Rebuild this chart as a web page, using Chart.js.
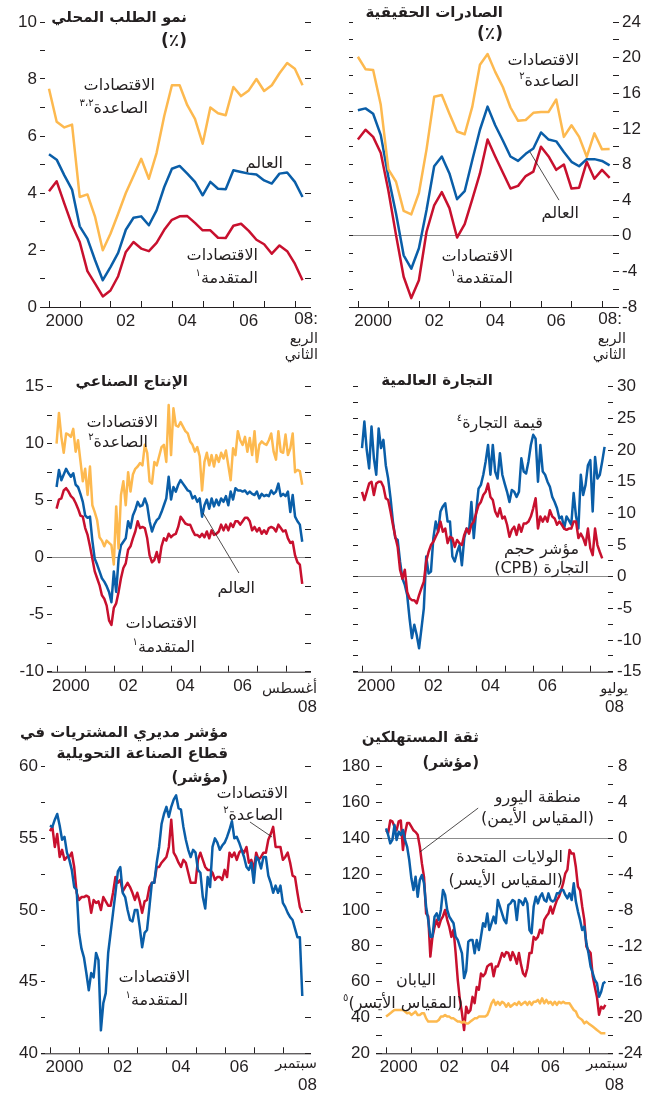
<!DOCTYPE html>
<html lang="ar">
<head>
<meta charset="utf-8">
<script src="https://cdn.jsdelivr.net/npm/chart.js@4.4.0/dist/chart.umd.min.js"></script>
<style>
  body { margin: 0; background: #fff; }
  #page { position: relative; width: 652px; height: 1097px; overflow: hidden; background: #fff; }
  canvas { position: absolute; }
  .t {
    position: absolute; white-space: nowrap; direction: rtl;
    font-family: "DejaVu Sans", sans-serif; font-size: 16px; line-height: 1;
    color: #231f20; transform: translate(-100%, -50%);
  }
  .h { font-weight: bold; font-size: 15px; }
  .p { font-weight: bold; font-size: 17px; }
  .n { font-family: "Liberation Sans", sans-serif; font-size: 17px; direction: ltr; }
  .s { font-size: 14.5px; }
  sup { font-size: 10px; vertical-align: 7px; line-height: 0; }
</style>
</head>
<body>
<div id="page">
  <canvas id="c1" width="326" height="335" style="left:0;top:0"></canvas>
  <canvas id="c2" width="326" height="335" style="left:326px;top:0"></canvas>
  <canvas id="c3" width="326" height="335" style="left:0;top:365px"></canvas>
  <canvas id="c4" width="326" height="335" style="left:326px;top:365px"></canvas>
  <canvas id="c5" width="326" height="365" style="left:0;top:720px"></canvas>
  <canvas id="c6" width="326" height="365" style="left:326px;top:720px"></canvas>

  <!-- domestic demand -->
  <div class="t h" style="left:187px;top:17px">نمو الطلب المحلي</div>
  <div class="t p" style="left:187px;top:40px">(٪)</div>
  <div class="t" style="left:155px;top:85px">الاقتصادات</div>
  <div class="t" style="left:148px;top:108px">الصاعدة<sup>٣،٢</sup></div>
  <div class="t" style="left:283px;top:163px">العالم</div>
  <div class="t" style="left:258px;top:255px">الاقتصادات</div>
  <div class="t" style="left:258px;top:278px">المتقدمة<sup>١</sup></div>
  <div class="t n" style="left:318px;top:318px">08:</div>
  <div class="t s" style="left:318px;top:338px">الربع</div>
  <div class="t s" style="left:318px;top:354px">الثاني</div>

  <!-- real exports -->
  <div class="t h" style="left:503px;top:12px">الصادرات الحقيقية</div>
  <div class="t p" style="left:503px;top:33px">(٪)</div>
  <div class="t" style="left:579px;top:60px">الاقتصادات</div>
  <div class="t" style="left:579px;top:81px">الصاعدة<sup>٢</sup></div>
  <div class="t" style="left:579px;top:213px">العالم</div>
  <div class="t" style="left:513px;top:256px">الاقتصادات</div>
  <div class="t" style="left:513px;top:278px">المتقدمة<sup>١</sup></div>
  <div class="t n" style="left:622px;top:318px">08:</div>
  <div class="t s" style="left:626px;top:338px">الربع</div>
  <div class="t s" style="left:626px;top:354px">الثاني</div>

  <!-- industrial production -->
  <div class="t h" style="left:188px;top:381px">الإنتاج الصناعي</div>
  <div class="t" style="left:158px;top:422px">الاقتصادات</div>
  <div class="t" style="left:148px;top:442px">الصاعدة<sup>٢</sup></div>
  <div class="t" style="left:255px;top:588px">العالم</div>
  <div class="t" style="left:197px;top:623px">الاقتصادات</div>
  <div class="t" style="left:195px;top:647px">المتقدمة<sup>١</sup></div>
  <div class="t s" style="left:317px;top:688px">أغسطس</div>
  <div class="t n" style="left:317px;top:706px">08</div>

  <!-- world trade -->
  <div class="t h" style="left:493px;top:380px">التجارة العالمية</div>
  <div class="t" style="left:543px;top:423px">قيمة التجارة<sup>٤</sup></div>
  <div class="t" style="left:579px;top:549px">مؤشر حجم</div>
  <div class="t" style="left:589px;top:568px">التجارة (CPB)</div>
  <div class="t s" style="left:628px;top:688px">يوليو</div>
  <div class="t n" style="left:624px;top:706px">08</div>

  <!-- PMI -->
  <div class="t h" style="left:228px;top:732px">مؤشر مديري المشتريات في</div>
  <div class="t h" style="left:228px;top:753px">قطاع الصناعة التحويلية</div>
  <div class="t h" style="left:228px;top:777px">(مؤشر)</div>
  <div class="t" style="left:288px;top:793px">الاقتصادات</div>
  <div class="t" style="left:283px;top:815px">الصاعدة<sup>٢</sup></div>
  <div class="t" style="left:190px;top:977px">الاقتصادات</div>
  <div class="t" style="left:188px;top:1000px">المتقدمة<sup>١</sup></div>
  <div class="t s" style="left:317px;top:1063px">سبتمبر</div>
  <div class="t n" style="left:317px;top:1084px">08</div>

  <!-- consumer confidence -->
  <div class="t h" style="left:479px;top:737px">ثقة المستهلكين</div>
  <div class="t h" style="left:479px;top:762px">(مؤشر)</div>
  <div class="t" style="left:581px;top:797px">منطقة اليورو</div>
  <div class="t" style="left:594px;top:818px">(المقياس الأيمن)</div>
  <div class="t" style="left:563px;top:857px">الولايات المتحدة</div>
  <div class="t" style="left:563px;top:880px">(المقياس الأيسر)</div>
  <div class="t" style="left:436px;top:980px">اليابان</div>
  <div class="t" style="left:463px;top:1003px">(المقياس الأيسر)<sup>٥</sup></div>
  <div class="t s" style="left:628px;top:1063px">سبتمبر</div>
  <div class="t n" style="left:624px;top:1084px">08</div>
</div>

<script>
// ---- data ----
const startYear = 2000;
const yearLabels = ["2000", "02", "04", "06"];

// domestic demand growth, quarterly 2000Q1-2008Q2 (%)
const demandEmerging = [7.66, 6.5, 6.3, 6.4, 3.86, 3.95, 3.16, 1.99, 2.57, 3.27, 4.0, 4.6, 5.2, 4.5, 5.4, 6.7, 7.78, 7.78, 7.08, 6.6, 5.73, 7.0, 6.8, 6.73, 7.72, 7.4, 7.6, 8.0, 7.58, 7.78, 8.2, 8.56, 8.36, 7.78];
const demandWorld = [5.36, 5.17, 4.62, 4.12, 2.83, 2.4, 1.64, 0.94, 1.4, 1.9, 2.71, 3.13, 3.18, 2.87, 3.39, 4.21, 4.85, 4.95, 4.68, 4.39, 3.92, 4.39, 4.15, 4.13, 4.8, 4.74, 4.68, 4.65, 4.44, 4.33, 4.68, 4.72, 4.39, 3.86];
const demandAdvanced = [4.06, 4.41, 3.63, 2.87, 2.28, 1.26, 0.82, 0.37, 0.58, 1.08, 1.93, 2.28, 2.05, 1.96, 2.25, 2.71, 3.06, 3.18, 3.19, 2.95, 2.69, 2.69, 2.43, 2.42, 2.85, 2.92, 2.67, 2.36, 2.2, 1.87, 2.16, 1.96, 1.52, 0.94];
const demandTicks = [0, 2, 4, 6, 8, 10];

// real exports, quarterly 2000Q1-2008Q2 (%)
const exportsEmerging = [20.1, 18.7, 18.6, 14.7, 7.45, 6.06, 2.8, 2.4, 4.8, 9.7, 15.6, 15.8, 13.7, 11.7, 11.4, 14.5, 19.2, 20.4, 18.4, 16.7, 14.4, 12.9, 13.0, 13.8, 13.9, 13.9, 15.3, 11.1, 12.4, 11.1, 8.87, 11.5, 9.7, 9.73];
const exportsWorld = [14.1, 14.3, 13.7, 11.3, 6.6, 2.5, -2.2, -3.7, -1.4, 2.9, 7.8, 8.9, 7.0, 4.1, 5.0, 8.5, 11.9, 14.5, 12.4, 10.7, 8.9, 8.4, 9.2, 9.8, 11.6, 10.8, 10.6, 9.4, 8.3, 7.8, 8.6, 8.6, 8.4, 7.9];
const exportsAdvanced = [10.8, 11.9, 11.1, 9.3, 5.05, 0.07, -4.6, -7.0, -5.0, 0.45, 3.4, 4.9, 3.1, -0.2, 1.3, 4.1, 7.0, 10.8, 8.9, 7.1, 5.3, 5.6, 6.7, 7.2, 10.0, 8.9, 7.4, 8.0, 5.3, 5.4, 8.3, 6.4, 7.4, 6.5];
const exportsTicks = [-8, -4, 0, 4, 8, 12, 16, 20, 24];

// industrial production, monthly Jan 2000-Aug 2008 (%)
const ipEmerging = [10.0, 12.7, 10.6, 9.2, 10.9, 10.8, 10.6, 11.3, 9.3, 10.3, 8.5, 6.7, 7.8, 5.5, 8.0, 4.6, 4.0, 3.3, 1.8, 1.5, 1.0, 1.5, 1.3, 1.1, -0.6, 4.5, 0.8, 5.5, 6.7, 4.6, 7.5, 5.8, 7.3, 7.8, 8.0, 8.3, 8.1, 9.9, 9.2, 6.7, 6.5, 8.4, 8.1, 8.9, 9.7, 9.9, 8.4, 13.4, 9.0, 13.1, 11.6, 11.5, 11.9, 11.5, 11.1, 10.9, 10.2, 9.9, 9.3, 9.7, 8.9, 5.9, 8.4, 9.2, 8.1, 9.0, 8.0, 9.0, 8.4, 9.2, 8.7, 9.4, 8.1, 6.8, 9.6, 9.0, 11.1, 10.3, 9.9, 10.6, 9.3, 10.5, 9.0, 11.1, 8.4, 9.9, 10.2, 10.0, 9.9, 10.3, 10.9, 9.3, 8.6, 11.1, 9.3, 9.2, 10.8, 9.0, 9.6, 10.9, 7.5, 7.7, 7.6, 6.4];
const ipWorld = [6.2, 7.7, 6.8, 7.3, 7.8, 7.4, 7.1, 7.4, 6.4, 6.2, 5.6, 4.9, 3.7, 3.5, 3.6, 1.5, -0.1, -0.6, -1.2, -1.8, -2.1, -2.5, -3.0, -3.9, -1.2, -3.0, -0.1, 1.1, 1.4, 1.7, 3.2, 2.6, 3.7, 4.2, 4.9, 4.5, 4.6, 5.2, 4.6, 3.2, 2.3, 2.9, 3.3, 3.5, 4.0, 4.6, 5.2, 7.1, 5.1, 6.2, 5.8, 6.4, 6.8, 6.5, 6.2, 5.9, 5.8, 5.2, 5.4, 4.9, 5.2, 3.6, 4.6, 5.1, 4.3, 5.2, 4.5, 5.1, 4.6, 5.2, 4.9, 5.4, 4.6, 5.8, 5.1, 6.1, 5.9, 5.9, 5.8, 5.9, 5.6, 5.8, 5.6, 5.5, 5.8, 5.2, 5.6, 5.4, 5.5, 5.4, 5.9, 5.6, 5.8, 6.5, 5.4, 5.6, 5.4, 5.8, 4.0, 5.5, 3.6, 3.2, 2.9, 1.4];
const ipAdvanced = [4.3, 5.1, 5.2, 5.9, 6.1, 5.8, 5.4, 5.2, 4.8, 4.3, 3.7, 3.6, 2.6, 2.0, 1.0, -0.1, -1.2, -1.8, -2.4, -3.3, -3.6, -4.2, -5.5, -5.9, -4.4, -4.0, -3.0, -1.8, -0.9, -0.5, 0.7, 1.0, 1.7, 2.3, 3.2, 2.6, 2.7, 2.6, 1.7, 0.2, -0.4, -0.2, 0.5, -0.4, 1.0, 1.7, 1.5, 2.1, 1.8, 2.0, 2.1, 2.7, 3.6, 3.3, 3.0, 2.9, 2.9, 2.4, 2.0, 2.0, 1.8, 2.1, 1.8, 2.3, 1.7, 2.4, 2.0, 2.1, 2.3, 2.9, 2.4, 2.9, 2.4, 3.0, 2.7, 3.2, 3.2, 2.9, 3.2, 3.5, 3.5, 3.2, 2.4, 2.7, 2.3, 2.6, 2.1, 2.4, 2.1, 2.6, 2.7, 2.6, 2.3, 2.9, 2.6, 2.3, 2.4, 1.7, 1.3, 1.4, 0.2, -0.4, -0.6, -2.3];
const ipTicks = [-10, -5, 0, 5, 10, 15];

// world trade, monthly from Jan 2000 (%)
const tradeValue = [20.3, 24.5, 20.0, 17.1, 23.7, 18.7, 16.1, 23.4, 20.3, 21.6, 17.6, 15.5, 12.4, 8.7, 6.1, 5.8, 2.4, -0.3, -1.3, -2.9, -6.6, -9.7, -7.6, -9.2, -11.3, -8.2, -5.0, 3.2, 0.5, 0.8, 6.1, 8.7, 7.1, 10.3, 11.1, 11.6, 8.7, 8.7, 3.2, 2.4, 3.9, 5.0, 1.8, 6.1, 7.6, 7.1, 11.8, 6.1, 10.3, 13.9, 14.5, 16.1, 18.2, 20.8, 16.1, 20.8, 16.6, 15.5, 19.5, 16.1, 14.7, 13.4, 11.8, 13.7, 13.4, 12.6, 13.4, 18.7, 16.6, 16.3, 18.2, 20.8, 22.4, 21.8, 15.0, 20.8, 16.6, 16.1, 15.0, 14.2, 12.6, 11.8, 10.8, 9.2, 9.5, 7.6, 9.5, 8.9, 8.2, 13.2, 9.5, 7.6, 16.1, 12.9, 14.5, 17.6, 18.4, 10.3, 18.9, 15.5, 16.1, 18.2, 20.5];
const tradeVolume = [13.4, 12.1, 13.4, 14.7, 15.0, 12.9, 14.7, 15.0, 15.0, 14.2, 12.4, 12.1, 10.3, 8.2, 6.3, 4.7, 1.1, -0.3, 1.1, -2.4, -3.4, -3.7, -3.7, -4.2, -2.9, -1.8, -0.8, 2.4, 3.9, 5.0, 5.5, 6.3, 7.1, 8.7, 7.1, 7.6, 5.3, 6.3, 6.1, 4.7, 5.8, 5.3, 5.0, 6.6, 7.6, 6.8, 8.2, 8.7, 10.0, 11.3, 11.8, 12.9, 13.4, 14.7, 12.6, 12.1, 10.3, 9.5, 10.8, 9.2, 9.5, 8.2, 6.3, 7.4, 7.9, 6.6, 8.2, 7.1, 8.4, 8.4, 8.7, 9.5, 10.8, 12.4, 7.6, 9.5, 8.7, 9.5, 8.7, 10.5, 9.5, 9.2, 8.2, 8.7, 8.2, 7.6, 7.4, 7.6, 7.6, 8.7, 8.7, 6.1, 6.8, 6.1, 5.0, 7.6, 4.5, 3.4, 7.6, 5.0, 3.9, 2.9];
const tradeTicks = [-15, -10, -5, 0, 5, 10, 15, 20, 25, 30];

// manufacturing PMI, monthly Jan 2000-Sep 2008 (index)
const pmiAdvanced = [55.9, 55.8, 56.3, 56.7, 55.9, 54.9, 55.1, 54.0, 53.5, 52.8, 51.6, 51.4, 48.4, 47.3, 46.7, 45.6, 44.4, 45.6, 45.3, 47.0, 46.5, 41.6, 43.5, 44.2, 47.0, 48.4, 49.8, 51.2, 52.7, 53.0, 51.2, 50.9, 50.0, 49.3, 49.2, 50.0, 50.0, 48.8, 47.4, 48.4, 48.6, 50.2, 51.9, 51.9, 53.3, 54.4, 56.0, 56.7, 57.2, 56.5, 57.2, 57.7, 58.0, 57.1, 57.0, 55.8, 54.9, 54.2, 53.7, 54.2, 54.0, 52.8, 52.6, 50.9, 50.1, 52.3, 51.6, 54.4, 55.0, 54.7, 54.2, 54.5, 54.7, 55.1, 55.6, 56.2, 55.0, 55.1, 54.7, 54.2, 53.7, 53.0, 52.8, 53.3, 51.9, 53.7, 53.5, 52.9, 53.7, 53.7, 52.4, 51.9, 51.2, 51.7, 51.2, 51.7, 50.5, 50.2, 49.8, 49.5, 49.3, 48.7, 48.1, 48.1, 44.0];
const pmiEmerging = [55.5, 55.8, 54.4, 55.3, 53.7, 54.2, 53.5, 53.7, 53.7, 54.0, 53.0, 51.2, 50.7, 50.9, 50.9, 51.0, 50.9, 49.8, 50.7, 50.5, 50.6, 50.0, 50.9, 50.6, 50.3, 50.3, 51.2, 52.3, 51.9, 52.1, 51.3, 51.6, 51.9, 51.6, 51.2, 50.7, 51.2, 50.6, 49.8, 50.6, 50.7, 51.6, 51.9, 51.9, 53.0, 53.0, 53.3, 53.5, 53.7, 54.4, 56.3, 54.0, 53.7, 53.3, 53.0, 53.5, 53.3, 52.6, 51.9, 51.9, 51.9, 53.5, 54.0, 53.5, 53.0, 52.8, 52.8, 52.6, 52.1, 52.3, 52.3, 52.1, 52.8, 52.3, 54.0, 53.7, 54.0, 53.5, 54.0, 54.2, 54.0, 54.4, 53.3, 53.5, 52.8, 54.0, 53.5, 53.7, 54.0, 54.0, 54.9, 55.3, 55.8, 54.4, 54.4, 54.4, 53.5, 53.7, 54.0, 53.3, 52.4, 52.3, 51.2, 50.2, 49.8];
const pmiTicks = [40, 45, 50, 55, 60];

// consumer confidence, monthly Jan 2000-Sep 2008
const confUS = [145.6, 141.9, 137.2, 139.1, 147.4, 139.1, 143.7, 141.9, 144.7, 139.1, 135.3, 127.9, 117.7, 111.2, 118.6, 107.4, 116.7, 119.5, 114.9, 101.9, 94.4, 85.1, 85.1, 96.3, 98.1, 94.4, 100.0, 111.2, 108.4, 100.0, 96.3, 94.4, 92.6, 85.1, 83.3, 79.5, 75.8, 62.0, 66.0, 82.3, 83.3, 83.3, 75.8, 83.3, 77.7, 85.1, 92.6, 90.7, 98.1, 88.8, 92.6, 96.3, 92.6, 105.6, 101.9, 98.1, 94.4, 92.6, 102.8, 103.7, 105.6, 104.7, 94.4, 105.6, 104.7, 102.8, 106.5, 103.7, 88.8, 87.0, 101.9, 107.4, 103.7, 107.4, 109.3, 105.6, 104.7, 109.3, 105.6, 104.7, 105.6, 109.3, 109.3, 111.2, 111.2, 108.4, 106.5, 109.3, 105.6, 114.9, 104.7, 99.1, 94.4, 88.8, 90.7, 81.4, 75.8, 68.4, 64.7, 60.9, 59.1, 51.6, 54.4, 59.1, 60.0];
const confJapan = [40.5, 41.4, 42.3, 43.3, 44.2, 44.2, 44.2, 44.2, 44.2, 43.3, 42.3, 42.7, 41.4, 42.3, 43.3, 41.4, 41.4, 42.3, 42.3, 39.5, 37.7, 37.7, 37.7, 37.7, 37.7, 38.6, 40.5, 40.5, 41.4, 40.5, 40.5, 39.5, 39.5, 38.6, 37.7, 37.7, 37.1, 37.7, 36.7, 36.7, 37.7, 38.6, 39.5, 39.5, 40.5, 40.5, 40.5, 40.5, 41.4, 44.2, 47.9, 49.8, 47.0, 48.8, 47.0, 48.8, 47.9, 46.0, 47.9, 46.0, 47.0, 47.9, 47.0, 48.8, 47.0, 47.9, 48.8, 47.0, 48.8, 47.0, 48.8, 48.8, 49.8, 47.9, 50.7, 47.9, 49.8, 47.9, 48.8, 47.0, 48.8, 47.0, 48.8, 47.9, 48.8, 47.9, 47.9, 47.9, 46.0, 44.2, 43.3, 40.5, 39.5, 38.6, 36.7, 37.7, 36.7, 35.8, 34.9, 34.0, 33.0, 32.1, 31.2, 31.2, 31.2];
const confEuro = [0.9, 0.6, 2.0, 1.9, 1.3, 0.9, 1.9, 2.0, -1.3, 0.6, 1.7, 1.7, 1.3, 0.9, 0.7, 0.4, -0.9, -2.8, -4.3, -8.4, -8.7, -13.2, -11.0, -9.9, -9.1, -9.9, -9.1, -8.7, -8.0, -9.1, -9.9, -11.0, -10.2, -12.8, -15.8, -18.0, -19.5, -21.4, -18.8, -19.5, -19.2, -17.7, -18.4, -16.6, -16.9, -15.1, -15.4, -15.1, -14.3, -14.1, -14.0, -15.4, -14.3, -14.3, -13.6, -12.8, -13.2, -12.7, -12.8, -13.6, -12.7, -13.2, -14.0, -12.8, -14.1, -15.1, -15.4, -14.5, -12.8, -12.8, -11.0, -11.3, -11.0, -10.2, -10.6, -9.1, -8.7, -8.4, -7.6, -8.4, -7.6, -6.9, -6.5, -5.8, -5.0, -3.9, -3.5, -1.3, -1.7, -1.7, -3.2, -5.4, -5.8, -7.6, -9.1, -12.1, -12.5, -12.8, -15.4, -16.6, -17.7, -19.7, -18.8, -19.0, -18.6];
const confLeftTicks = [20, 40, 60, 80, 100, 120, 140, 160, 180];
const confRightTicks = [-24, -20, -16, -12, -8, -4, 0, 4, 8];

// ---- styling ----
const INK = "#231f20";
const YELLOW = "#fdb94f";
const BLUE = "#0a5ea8";
const RED = "#c8102e";
const TICK_FONT = { family: "'Liberation Sans', sans-serif", size: 17 };

const points = (vals, perYear) => vals.map((v, i) => ({ x: startYear + i / perYear, y: v }));

function yAxis(ax, position) {
  return {
    type: "linear",
    position: position,
    min: ax.min,
    max: ax.max,
    afterBuildTicks: (s) => {
      const t = [];
      for (let v = ax.min; v <= ax.max + 1e-9; v += ax.minor) t.push({ value: +v.toFixed(3) });
      s.ticks = t;
    },
    afterFit: (s) => { s.width = ax.width; },
    ticks: {
      autoSkip: false,
      padding: ax.pad || 3,
      color: INK,
      font: TICK_FONT,
      callback: (v) => (ax.labels.includes(v) ? String(v) : ""),
    },
    grid: {
      drawOnChartArea: !!ax.zero,
      color: (c) => (c.tick && c.tick.value === 0 ? "#8c8c8c" : "rgba(0,0,0,0)"),
      tickColor: INK,
      tickLength: ax.tick,
      lineWidth: 1,
    },
    border: { display: false },
  };
}

// x-axis baseline, year tick marks pointing up, and leader lines
const frame = {
  id: "frame",
  beforeDatasetsDraw(chart, args, opts) {
    const { ctx, chartArea: ca, scales } = chart;
    ctx.save();
    ctx.strokeStyle = INK;
    ctx.lineWidth = 1;
    ctx.beginPath();
    ctx.moveTo(ca.left - opts.extL, ca.bottom + 0.5);
    ctx.lineTo(ca.right + opts.extR, ca.bottom + 0.5);
    for (let yr = 2000; yr <= 2008; yr++) {
      const px = Math.round(scales.x.getPixelForValue(yr)) + 0.5;
      ctx.moveTo(px, ca.bottom);
      ctx.lineTo(px, ca.bottom - 6);
    }
    ctx.stroke();
    ctx.restore();
  },
  afterDatasetsDraw(chart, args, opts) {
    const { ctx, scales } = chart;
    ctx.save();
    ctx.strokeStyle = INK;
    ctx.lineWidth = 0.8;
    (opts.leaders || []).forEach(([x1, y1, x2, y2]) => {
      ctx.beginPath();
      ctx.moveTo(scales.x.getPixelForValue(x1), scales.yL.getPixelForValue(y1));
      ctx.lineTo(scales.x.getPixelForValue(x2), scales.yL.getPixelForValue(y2));
      ctx.stroke();
    });
    ctx.restore();
  },
};

function panel(id, p) {
  new Chart(document.getElementById(id), {
    type: "line",
    data: {
      datasets: p.series.map(([vals, color, axis]) => ({
        data: points(vals, p.perYear),
        borderColor: color,
        borderWidth: 2.5,
        pointRadius: 0,
        tension: 0,
        borderJoinStyle: "round",
        yAxisID: axis || "yL",
      })),
    },
    options: {
      responsive: false,
      animation: false,
      devicePixelRatio: 1,
      events: [],
      layout: { padding: { top: p.padTop, left: 0, right: 0, bottom: 0 } },
      scales: {
        x: {
          type: "linear",
          min: p.xMin,
          max: p.xMax,
          afterBuildTicks: (s) => { s.ticks = yearLabels.map((l, i) => ({ value: startYear + 2 * i + 0.5 })); },
          afterFit: (s) => { s.height = p.xH; },
          ticks: {
            autoSkip: false,
            maxRotation: 0,
            padding: 4,
            color: INK,
            font: TICK_FONT,
            callback: (v) => yearLabels[Math.round((v - 0.5 - startYear) / 2)],
          },
          grid: { display: false, drawTicks: false },
          border: { display: false },
        },
        yL: yAxis(p.yL, "left"),
        yR: yAxis(p.yR, "right"),
      },
      plugins: {
        legend: { display: false },
        tooltip: { enabled: false },
        frame: { extL: p.yL.tick, extR: p.yR.tick, leaders: p.leaders },
      },
    },
    plugins: [frame],
  });
}

panel("c1", {
  perYear: 4, padTop: 22, xH: 28, xMin: 1999.87, xMax: 2008.33,
  yL: { min: 0, max: 10, minor: 1, labels: demandTicks, width: 45, tick: 5 },
  yR: { min: 0, max: 10, minor: 1, labels: [], width: 21, tick: 6 },
  series: [[demandEmerging, YELLOW], [demandWorld, BLUE], [demandAdvanced, RED]],
});

panel("c2", {
  perYear: 4, padTop: 22, xH: 28, xMin: 1999.84, xMax: 2008.36,
  yL: { min: -8, max: 24, minor: 2, labels: [], width: 27, tick: 4, zero: true },
  yR: { min: -8, max: 24, minor: 2, labels: exportsTicks, width: 39, tick: 6 },
  series: [[exportsEmerging, YELLOW], [exportsWorld, BLUE], [exportsAdvanced, RED]],
  leaders: [[2006.59, 4.0, 2005.64, 9.4]],
});

panel("c3", {
  perYear: 12, padTop: 21.7, xH: 28.3, xMin: 1999.84, xMax: 2008.68,
  yL: { min: -10, max: 15, minor: 2.5, labels: ipTicks, width: 52, tick: 5, zero: true },
  yR: { min: -10, max: 15, minor: 2.5, labels: [], width: 21, tick: 6 },
  series: [[ipEmerging, YELLOW], [ipWorld, BLUE], [ipAdvanced, RED]],
  leaders: [[2006.37, -1.34, 2005.12, 3.92]],
});

panel("c4", {
  perYear: 12, padTop: 21.7, xH: 28.3, xMin: 1999.86, xMax: 2008.62,
  yL: { min: -15, max: 30, minor: 2.5, labels: [], width: 32, tick: 5, zero: true },
  yR: { min: -15, max: 30, minor: 2.5, labels: tradeTicks, width: 44, tick: 5, pad: 4 },
  series: [[tradeVolume, RED], [tradeValue, BLUE]],
});

panel("c5", {
  perYear: 12, padTop: 46.7, xH: 31.7, xMin: 1999.83, xMax: 2008.76,
  yL: { min: 40, max: 60, minor: 2.5, labels: pmiTicks, width: 45, tick: 4 },
  yR: { min: 40, max: 60, minor: 2.5, labels: [], width: 21, tick: 6 },
  series: [[pmiAdvanced, BLUE], [pmiEmerging, RED]],
  leaders: [[2006.87, 56.14, 2007.63, 55.09]],
});

panel("c6", {
  perYear: 12, padTop: 46.7, xH: 31.7, xMin: 1999.84, xMax: 2008.77,
  yL: { min: 20, max: 180, minor: 10, labels: confLeftTicks, width: 56, tick: 6, pad: 6 },
  yR: { min: -24, max: 8, minor: 2, labels: confRightTicks, width: 44, tick: 5, pad: 5, zero: true },
  series: [[confJapan, YELLOW], [confUS, BLUE], [confEuro, RED, "yR"]],
  leaders: [[2003.64, 156.9, 2001.34, 132.4]],
});
</script>
</body>
</html>
